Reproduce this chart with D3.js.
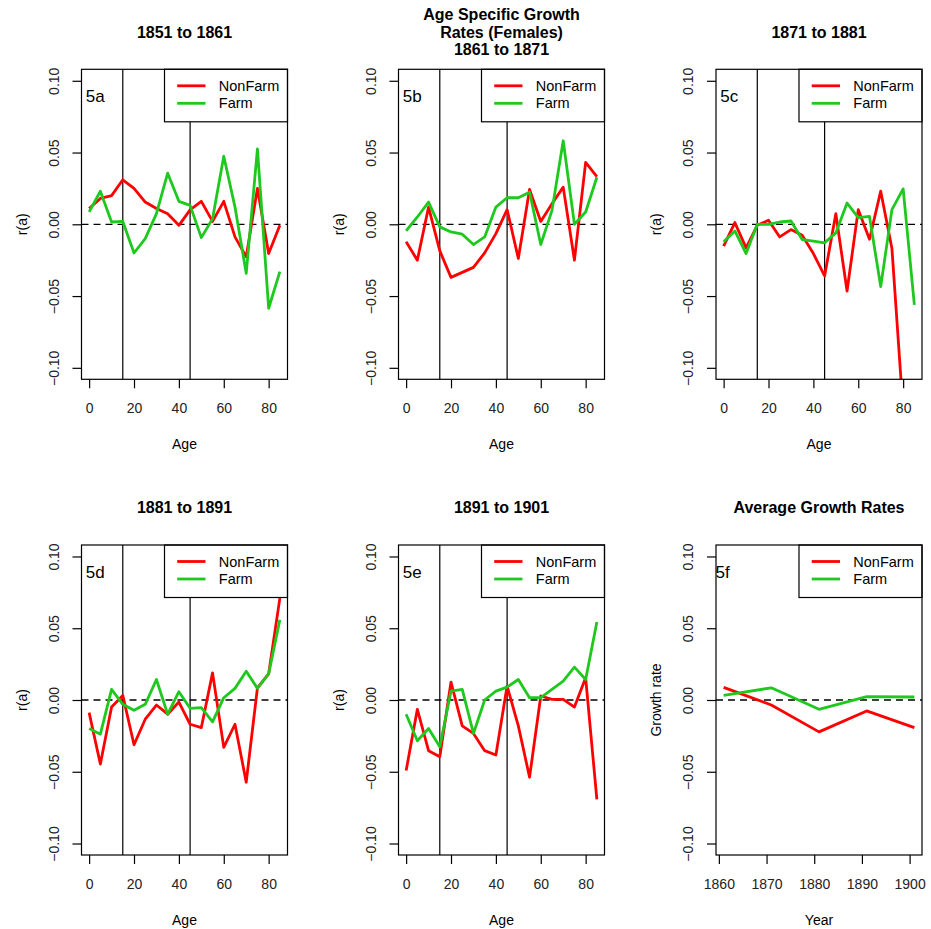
<!DOCTYPE html>
<html>
<head>
<meta charset="utf-8">
<script src="https://cdn.jsdelivr.net/npm/d3@7"></script>
<style>
  body { margin: 0; background: #fff; }
  svg { font-family: "Liberation Sans", Arial, Helvetica, sans-serif; }
</style>
</head>
<body>
<svg id="chart" width="931" height="929"></svg>
<script>
// age groups (start of 5 year band)
const ages = [0, 5, 10, 15, 20, 25, 30, 35, 40, 45, 50, 55, 60, 65, 70, 75, 80, 85];
const years = [1861, 1871, 1881, 1891, 1901];

// 5a 1851 to 1861
const nonFarm5a = [0.011, 0.018, 0.020, 0.031, 0.025, 0.0155, 0.011, 0.0074, -0.0007, 0.010, 0.016, 0.002, 0.016, -0.0088, -0.0227, 0.025, -0.0204, -0.0007];
const farm5a = [0.0086, 0.023, 0.0016, 0.002, -0.020, -0.010, 0.0074, 0.0356, 0.016, 0.0132, -0.0093, 0.0039, 0.0474, 0.012, -0.0342, 0.0525, -0.0585, -0.033];
// 5b 1861 to 1871
const nonFarm5b = [-0.0122, -0.025, 0.012, -0.0185, -0.037, -0.0335, -0.030, -0.0199, -0.0065, 0.0102, -0.0238, 0.0243, 0.002, 0.0143, 0.0259, -0.025, 0.0432, 0.0333];
const farm5b = [-0.0046, 0.0051, 0.0155, -0.0018, -0.0053, -0.0069, -0.0141, -0.0088, 0.012, 0.0185, 0.0185, 0.0224, -0.0141, 0.0097, 0.0582, 0.0, 0.0086, 0.0328];
// 5c 1871 to 1881
const nonFarm5c = [-0.0152, 0.0012, -0.0164, -0.0007, 0.0028, -0.0088, -0.0037, -0.0076, -0.0204, -0.036, 0.0074, -0.0465, 0.0102, -0.0104, 0.0231, -0.0169, -0.13, -0.15];
const farm5c = [-0.0122, -0.0046, -0.0204, 0.0, 0.0, 0.0016, 0.0023, -0.0106, -0.0118, -0.0129, -0.006, 0.0148, 0.0046, 0.0055, -0.0434, 0.0102, 0.0247, -0.0561];
// 5d 1881 to 1891
const nonFarm5d = [-0.0088, -0.0446, -0.0049, 0.0032, -0.0312, -0.0134, -0.0035, -0.0099, -0.0014, -0.0169, -0.0192, 0.0189, -0.033, -0.0169, -0.0573, 0.0085, 0.0182, 0.071];
const farm5d = [-0.0199, -0.0238, 0.0074, -0.003, -0.0072, -0.003, 0.0143, -0.0099, 0.0058, -0.0058, -0.0053, -0.0152, 0.0016, 0.0081, 0.0201, 0.0081, 0.0182, 0.0559];
// 5e 1891 to 1901
const nonFarm5e = [-0.0492, -0.0065, -0.0353, -0.0395, 0.0125, -0.018, -0.0233, -0.0353, -0.0383, 0.0097, -0.018, -0.0538, 0.0028, 0.0005, 0.0005, -0.0049, 0.0155, -0.0693];
const farm5e = [-0.0099, -0.0284, -0.0199, -0.0326, 0.0062, 0.0074, -0.0233, 0.0, 0.0062, 0.009, 0.0143, 0.0016, 0.0016, 0.0074, 0.0132, 0.0229, 0.0143, 0.0543];
// 5f average growth rates
const nonFarmAvg = [0.0088, -0.0035, -0.0222, -0.0076, -0.0192];
const farmAvg = [0.0032, 0.0085, -0.0065, 0.0023, 0.0021];

const yTicks = [-0.1, -0.05, 0, 0.05, 0.1];
const ageTicks = [0, 20, 40, 60, 80];
const yearTicks = [1860, 1870, 1880, 1890, 1900];
const ageLines = [15, 45];
const legendNames = ["NonFarm", "Farm"];

const colors = { NonFarm: "#ff0000", Farm: "#1ec81e" };

const svg = d3.select("#chart");

// plot region size and panel origins
const pw = 206, ph = 310;
const colX = [81.5, 398.5, 716];
const rowY = [69.3, 545];

function drawPanel(opt) {
  const left = colX[opt.col], top = rowY[opt.row];
  const g = svg.append("g").attr("transform", "translate(" + left + "," + top + ")");

  const pad = (opt.xDomain[1] - opt.xDomain[0]) * 0.04;
  const x = d3.scaleLinear()
    .domain([opt.xDomain[0] - pad, opt.xDomain[1] + pad])
    .range([0, pw]);
  const y = d3.scaleLinear()
    .domain([-0.108, 0.108])
    .range([ph, 0]);

  const clipId = "clip" + opt.label;
  g.append("clipPath").attr("id", clipId)
    .append("rect").attr("width", pw).attr("height", ph);

  // y axis
  const yAxis = g.append("g")
    .call(d3.axisLeft(y).tickValues(yTicks).tickSize(9).tickSizeOuter(0).tickFormat(d3.format(".2f")));
  yAxis.select(".domain").remove();
  yAxis.selectAll(".tick line").attr("stroke-width", 1.2);
  yAxis.selectAll(".tick text")
    .attr("x", null).attr("dy", null)
    .attr("transform", "translate(-28,0) rotate(-90)")
    .attr("text-anchor", "middle")
    .attr("dominant-baseline", "central")
    .style("font-size", "14px")
    .attr("fill", "#222");

  // x axis
  const xAxis = g.append("g")
    .attr("transform", "translate(0," + ph + ")")
    .call(d3.axisBottom(x).tickValues(opt.xTicks).tickSize(9).tickSizeOuter(0).tickFormat(d3.format("d")));
  xAxis.select(".domain").remove();
  xAxis.selectAll(".tick line").attr("stroke-width", 1.2);
  xAxis.selectAll(".tick text")
    .attr("y", 28.5).attr("dy", null)
    .attr("dominant-baseline", "central")
    .style("font-size", "14px")
    .attr("fill", "#222");

  // axis titles
  g.append("text")
    .attr("x", pw / 2).attr("y", ph + 65)
    .attr("text-anchor", "middle").attr("dominant-baseline", "central")
    .style("font-size", "14px")
    .text(opt.xLabel);
  g.append("text")
    .attr("transform", "translate(-60," + ph / 2 + ") rotate(-90)")
    .attr("text-anchor", "middle").attr("dominant-baseline", "central")
    .style("font-size", "14px")
    .text(opt.yLabel);

  // title, one or more lines, centred on the usual title line
  const titleLines = opt.title;
  titleLines.forEach(function(t, i) {
    g.append("text")
      .attr("x", pw / 2)
      .attr("y", -37.3 + (i - (titleLines.length - 1) / 2) * 17.5)
      .attr("text-anchor", "middle").attr("dominant-baseline", "central")
      .style("font-size", "16px").style("font-weight", "bold")
      .text(t);
  });

  // reference lines
  const inner = g.append("g").attr("clip-path", "url(#" + clipId + ")");
  if (opt.vlines) {
    inner.selectAll(".vline").data(opt.vlines).enter().append("line")
      .attr("x1", d => x(d)).attr("x2", d => x(d))
      .attr("y1", 0).attr("y2", ph)
      .attr("stroke", "#000").attr("stroke-width", 1.2);
  }
  inner.append("line")
    .attr("x1", 0).attr("x2", pw)
    .attr("y1", y(0)).attr("y2", y(0))
    .attr("stroke", "#000").attr("stroke-width", 1.3)
    .attr("stroke-dasharray", "7,5");

  // series
  const line = d3.line().x(d => x(d[0])).y(d => y(d[1]));
  const series = [
    { name: "NonFarm", values: opt.nonFarm },
    { name: "Farm", values: opt.farm }
  ];
  series.forEach(function(s) {
    inner.append("path")
      .datum(d3.zip(opt.xs, s.values))
      .attr("fill", "none")
      .attr("stroke", colors[s.name])
      .attr("stroke-width", 2.8)
      .attr("stroke-linejoin", "round")
      .attr("d", line);
  });

  // panel label
  g.append("text")
    .attr("x", x(opt.xTicks[0]) - 3.3)
    .attr("y", y(0.089))
    .attr("dominant-baseline", "central")
    .style("font-size", "17px")
    .text(opt.label);

  // legend (top right, white fill)
  const lw = 123, lh = 52.5;
  const leg = g.append("g").attr("transform", "translate(" + (pw - lw) + ",0)");
  leg.append("rect")
    .attr("width", lw).attr("height", lh)
    .attr("fill", "#fff").attr("stroke", "#000").attr("stroke-width", 1.2);
  legendNames.forEach(function(n, i) {
    const ly = 16.5 + i * 17.5;
    leg.append("line")
      .attr("x1", 12.7).attr("x2", 41)
      .attr("y1", ly).attr("y2", ly)
      .attr("stroke", colors[n]).attr("stroke-width", 2.8);
    leg.append("text")
      .attr("x", 54.3).attr("y", ly)
      .attr("dominant-baseline", "central")
      .style("font-size", "14.5px")
      .text(n);
  });

  // box
  g.append("rect")
    .attr("width", pw).attr("height", ph)
    .attr("fill", "none").attr("stroke", "#000").attr("stroke-width", 1.2);
}

const agePanels = [
  { label: "5a", row: 0, col: 0, title: ["1851 to 1861"], nonFarm: nonFarm5a, farm: farm5a },
  { label: "5b", row: 0, col: 1, title: ["Age Specific Growth", "Rates (Females)", "1861 to 1871"], nonFarm: nonFarm5b, farm: farm5b },
  { label: "5c", row: 0, col: 2, title: ["1871 to 1881"], nonFarm: nonFarm5c, farm: farm5c },
  { label: "5d", row: 1, col: 0, title: ["1881 to 1891"], nonFarm: nonFarm5d, farm: farm5d },
  { label: "5e", row: 1, col: 1, title: ["1891 to 1901"], nonFarm: nonFarm5e, farm: farm5e }
];

agePanels.forEach(function(p) {
  drawPanel(Object.assign({
    xs: ages,
    xDomain: [d3.min(ages), d3.max(ages)],
    xTicks: ageTicks,
    vlines: ageLines,
    xLabel: "Age",
    yLabel: "r(a)"
  }, p));
});

drawPanel({
  label: "5f", row: 1, col: 2,
  title: ["Average Growth Rates"],
  xs: years,
  xDomain: [d3.min(years), d3.max(years)],
  xTicks: yearTicks,
  vlines: null,
  xLabel: "Year",
  yLabel: "Growth rate",
  nonFarm: nonFarmAvg,
  farm: farmAvg
});
</script>
</body>
</html>
